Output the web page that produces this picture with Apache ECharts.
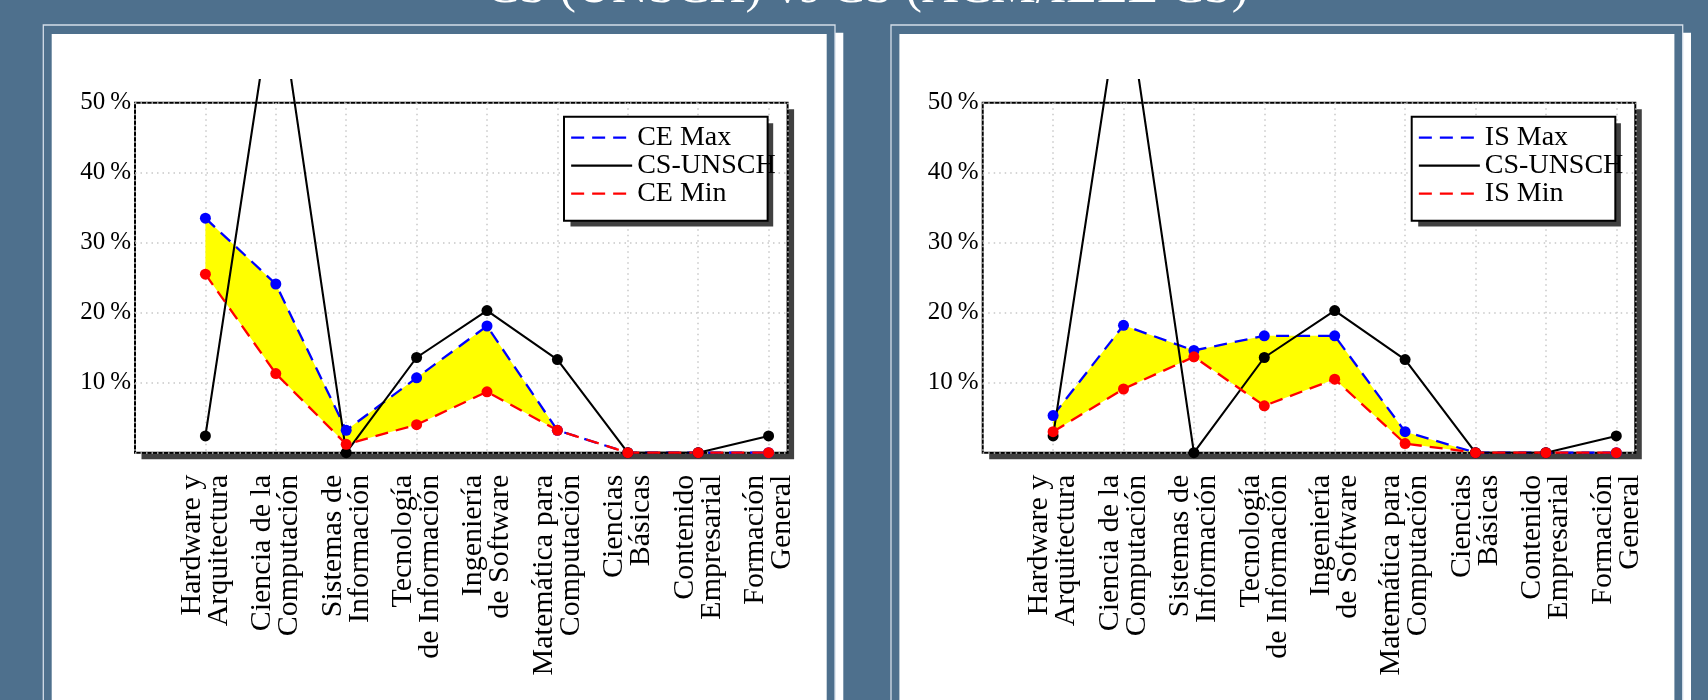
<!DOCTYPE html>
<html><head><meta charset="utf-8">
<script src="https://cdn.jsdelivr.net/npm/echarts@6/dist/echarts.min.js"></script>
<style>html,body{margin:0;padding:0;background:#4e708d;}#c{width:1708px;height:700px;}</style>
</head><body><div id="c"></div><script>
// ---- data ----
const categories = ['Hardware y\nArquitectura','Ciencia de la\nComputación','Sistemas de\nInformación','Tecnología\nde Información','Ingeniería\nde Software','Matemática para\nComputación','Ciencias\nBásicas','Contenido\nEmpresarial','Formación\nGeneral'];
const yTickValues = [10, 20, 30, 40, 50];
const yTickLabels = ['10\u2009%', '20\u2009%', '30\u2009%', '40\u2009%', '50\u2009%'];
const csUnsch = [2.4, 68.3, 0, 13.6, 20.3, 13.3, 0, 0, 2.4];
const ceMax = [33.5, 24.1, 3.2, 10.7, 18.1, 3.2, 0, 0, 0];
const ceMin = [25.5, 11.3, 1.2, 4.0, 8.7, 3.2, 0, 0, 0];
const isMax = [5.3, 18.2, 14.6, 16.7, 16.7, 3.0, 0, 0, 0];
const isMin = [3.0, 9.1, 13.7, 6.7, 10.5, 1.3, 0, 0, 0];
const seriesNames = { ceMax: 'CE Max', ceMin: 'CE Min', isMax: 'IS Max', isMin: 'IS Min', cs: 'CS-UNSCH' };
const titleText = 'CS (UNSCH) vs CS (ACM/IEEE CS)';

// ---- layout ----
const FONT = 'Liberation Serif';
const BG = '#4e708d';
const plotTop = 102.7, plotH = 350, plotW = 652.6, clipTop = 80, shadowOff = 6.5;
const legendTop = 116.7, legendW = 202.7, legendH = 103.3;
const panels = [
  { frameX: 43.3, plotLeft: 135, legendLeft: 564, maxName: seriesNames.ceMax, minName: seriesNames.ceMin, maxD: ceMax, minD: ceMin },
  { frameX: 891, plotLeft: 982.7, legendLeft: 1411.7, maxName: seriesNames.isMax, minName: seriesNames.isMin, maxD: isMax, minD: isMin }
];
const xMin = 0, xMax = 9.27;
const yClipMax = 50 * (plotH + (plotTop - clipTop)) / plotH;
const dash = [13, 8];
const gridLine = { show: true, lineStyle: { type: [1.5, 4], color: '#c8c8c8', width: 1.5 } };

const pts = arr => arr.map((v, i) => [i + 1, v]);

const grid = [], xAxis = [], yAxis = [], series = [], legend = [], graphics = [];
panels.forEach((p, k) => {
  const gA = k * 2, gB = k * 2 + 1;
  grid.push({ left: p.plotLeft, top: plotTop, width: plotW, height: plotH, show: true, backgroundColor: '#fff',
    borderColor: '#000', borderWidth: 2, containLabel: false, outerBoundsMode: 'none', z: 0 });
  grid.push({ left: p.plotLeft, top: clipTop, width: plotW, height: plotH + (plotTop - clipTop), show: false,
    containLabel: false, outerBoundsMode: 'none' });
  xAxis.push({ gridIndex: gA, type: 'value', min: xMin, max: xMax, interval: 1, z: 1,
    axisLine: { show: false }, axisTick: { show: false },
    axisLabel: { rotate: 90, margin: 22, fontFamily: FONT, fontSize: 30, lineHeight: 27, color: '#000',
      formatter: v => (Number.isInteger(v) && v >= 1 && v <= categories.length) ? categories[v - 1] : '' },
    splitLine: gridLine });
  xAxis.push({ gridIndex: gB, type: 'value', min: xMin, max: xMax, show: false });
  yAxis.push({ gridIndex: gA, type: 'value', min: 0, max: 50, interval: 10, z: 1,
    axisLine: { show: false }, axisTick: { show: false },
    axisLabel: { margin: 4, fontFamily: FONT, fontSize: 25, color: '#000',
      formatter: v => { const i = yTickValues.indexOf(v); return i >= 0 ? yTickLabels[i] : ''; } },
    splitLine: gridLine });
  yAxis.push({ gridIndex: gB, type: 'value', min: 0, max: yClipMax, show: false });

  // yellow band between max and min
  series.push({ type: 'custom', xAxisIndex: gA, yAxisIndex: gA, data: [[1, 0]], clip: false, silent: true, z: 2,
    renderItem: (params, api) => {
      const upper = p.maxD.map((v, i) => api.coord([i + 1, v]));
      const lower = p.minD.map((v, i) => api.coord([i + 1, v])).reverse();
      return { type: 'polygon', shape: { points: upper.concat(lower) }, style: { fill: '#ffff00', stroke: null } };
    } });
  series.push({ name: p.maxName, type: 'line', xAxisIndex: gA, yAxisIndex: gA, data: pts(p.maxD), clip: false,
    symbol: 'circle', symbolSize: 11, itemStyle: { color: '#0000ff' },
    lineStyle: { color: '#0000ff', width: 2.3, type: dash }, z: 3 });
  series.push({ name: seriesNames.cs, type: 'line', xAxisIndex: gB, yAxisIndex: gB, data: pts(csUnsch), clip: true,
    symbol: 'circle', symbolSize: 11, itemStyle: { color: '#000' },
    lineStyle: { color: '#000', width: 2.1, type: 'solid' }, z: 3 });
  series.push({ name: p.minName, type: 'line', xAxisIndex: gA, yAxisIndex: gA, data: pts(p.minD), clip: false,
    symbol: 'circle', symbolSize: 11, itemStyle: { color: '#ff0000' },
    lineStyle: { color: '#ff0000', width: 2.3, type: dash }, z: 3 });

  legend.push({ left: p.legendLeft, top: legendTop, orient: 'vertical', selectedMode: false,
    data: [p.maxName, seriesNames.cs, p.minName], itemWidth: 61, itemHeight: 2, itemGap: 0,
    padding: [7, -8, 13, 6], backgroundColor: '#fff', borderColor: '#000', borderWidth: 2,
    lineStyle: { width: 2.3 }, itemStyle: { opacity: 0 },
    textStyle: { fontFamily: FONT, fontSize: 28, color: '#000', lineHeight: 27.7 }, z: 6 });

  // panel frames
  graphics.push({ type: 'rect', z: -3, shape: { x: p.frameX + 8, y: 32.7, width: 792, height: 720 }, style: { fill: '#ffffff' } });
  graphics.push({ type: 'rect', z: -2, shape: { x: p.frameX, y: 25, width: 791.7, height: 720 }, style: { fill: BG, stroke: '#d3dde8', lineWidth: 1.3 } });
  graphics.push({ type: 'rect', z: -1, shape: { x: p.frameX + 8.4, y: 34, width: 775, height: 720 }, style: { fill: '#ffffff' } });
  // drop shadows of plot box and legend box
  graphics.push({ type: 'rect', z: -0.5, shape: { x: p.plotLeft + shadowOff, y: plotTop + shadowOff, width: plotW, height: plotH }, style: { fill: '#404040' } });
  graphics.push({ type: 'rect', z: 5, shape: { x: p.legendLeft + shadowOff, y: legendTop + shadowOff, width: legendW, height: legendH }, style: { fill: '#404040' } });
});
graphics.push({ type: 'text', z: 10, x: 867, y: -11, style: { text: titleText, fill: '#fff', font: '50px "Liberation Serif"', align: 'center', verticalAlign: 'middle' } });

const chart = echarts.init(document.getElementById('c'), null, { renderer: 'canvas' });
chart.setOption({
  animation: false,
  backgroundColor: BG,
  grid, xAxis, yAxis, series, legend,
  graphic: { elements: graphics }
});
</script></body></html>
